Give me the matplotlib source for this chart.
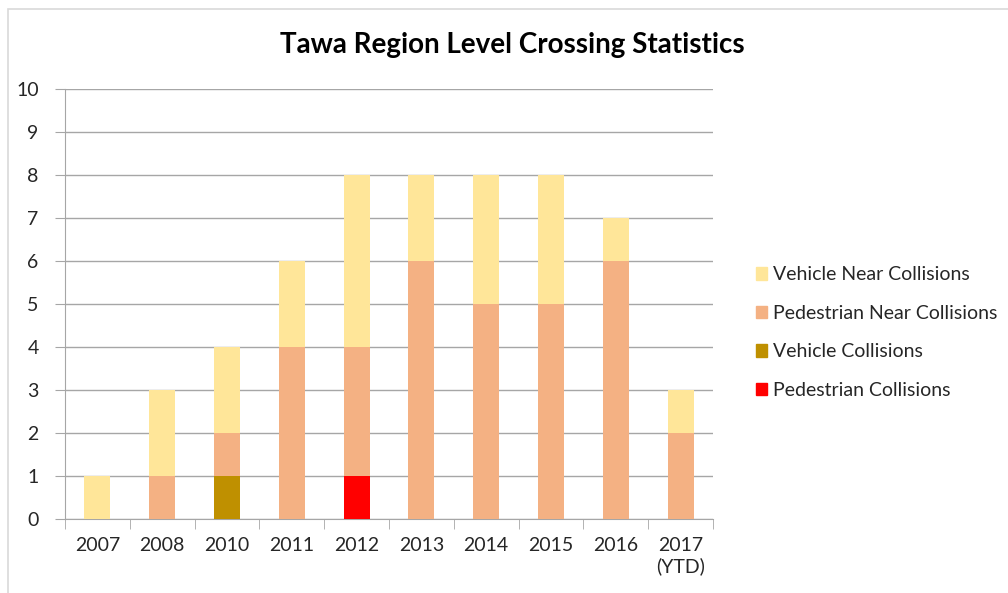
import matplotlib

matplotlib.use('Agg')
import matplotlib.pyplot as plt
from matplotlib.patches import Rectangle, Patch
import numpy as np

plt.rcParams['font.family'] = ['Lato', 'DejaVu Sans']

# Data
years = ['2007', '2008', '2010', '2011', '2012', '2013', '2014', '2015', '2016', '2017\n(YTD)']
ped_collisions = [0, 0, 0, 0, 1, 0, 0, 0, 0, 0]
veh_collisions = [0, 0, 1, 0, 0, 0, 0, 0, 0, 0]
ped_near = [0, 1, 1, 4, 3, 6, 5, 5, 6, 2]
veh_near = [1, 2, 2, 2, 4, 2, 3, 3, 1, 1]

series = [
    ('Pedestrian Collisions', ped_collisions, '#FF0000'),
    ('Vehicle Collisions', veh_collisions, '#BF9000'),
    ('Pedestrian Near Collisions', ped_near, '#F4B183'),
    ('Vehicle Near Collisions', veh_near, '#FFE699'),
]

fig = plt.figure(figsize=(10.08, 5.93), dpi=100)
ax = fig.add_axes([65 / 1008, 74 / 593, 648 / 1008, 430 / 593])

# chart border
fig.patches.append(Rectangle((8 / 1008, -0.05), 1.1, 1 - 9 / 593 + 0.05,
                             transform=fig.transFigure, fill=False,
                             edgecolor='#D9D9D9', linewidth=1.2))

x = np.arange(len(years))
bottom = np.zeros(len(years))
for name, vals, col in series:
    ax.bar(x, vals, width=0.4, bottom=bottom, color=col, linewidth=0, zorder=3)
    bottom += np.array(vals)

ax.set_ylim(0, 10)
ax.set_xlim(-0.5, len(years) - 0.5)
ax.set_yticks(range(0, 11))
ax.yaxis.grid(True, color='#A6A6A6', linewidth=1)
ax.set_axisbelow(True)
ax.tick_params(axis='y', length=7, color='#A6A6A6', labelsize=14, labelcolor='#262626', pad=12)
ax.set_xticks(x)
ax.set_xticklabels(years)
ax.set_xticks(np.arange(-0.5, len(years)), minor=True)
ax.tick_params(axis='x', which='major', length=0, labelsize=14, labelcolor='#262626', pad=13)
ax.tick_params(axis='x', which='minor', length=7, color='#A6A6A6')
for s in ['top', 'right']:
    ax.spines[s].set_visible(False)
ax.spines['left'].set_color('#A6A6A6')
ax.spines['bottom'].set_color('#A6A6A6')

fig.text(0.508, 1 - 45 / 593, 'Tawa Region Level Crossing Statistics',
         ha='center', va='center', fontsize=20, fontweight='bold', color='#000000')

handles = [Patch(color=col, label=name) for name, vals, col in series][::-1]
fig.legend(handles=handles, loc='upper left', bbox_to_anchor=(738 / 1008, 1 - 249 / 593),
           frameon=False, fontsize=14, labelspacing=1.1, handlelength=0.6,
           handleheight=0.6, handletextpad=0.3, labelcolor='#262626')

plt.savefig('out.png')
